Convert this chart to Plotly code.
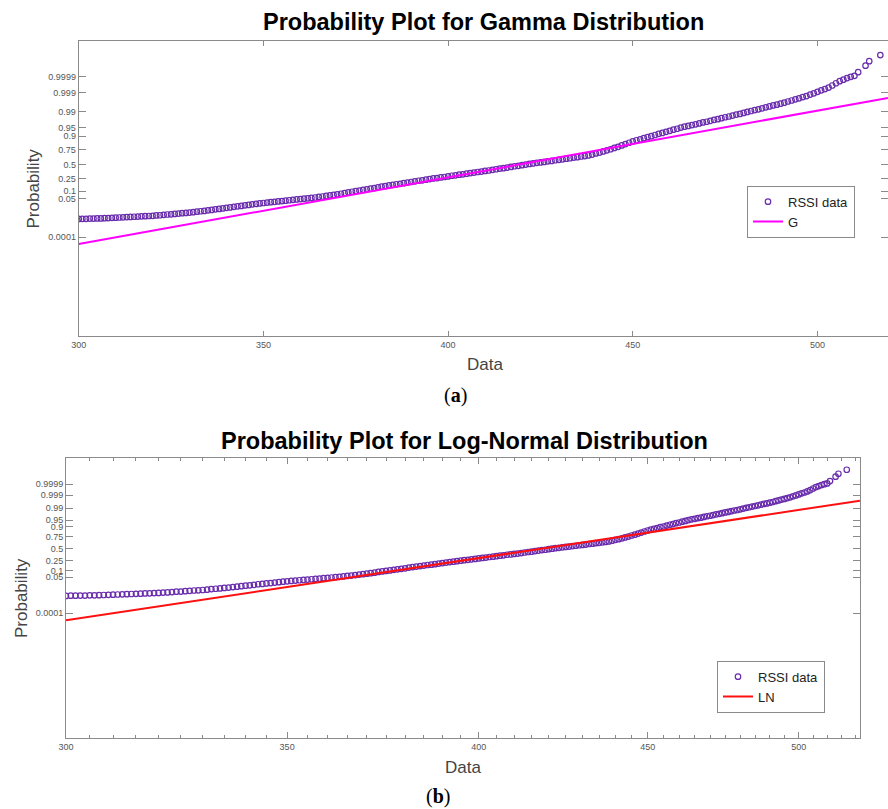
import math
from statistics import NormalDist
import plotly.graph_objects as go

# ---------------- data ----------------
# distinct RSSI readings (sorted) shown in the probability plots
rssi_values = list(range(300, 511)) + [511, 513, 514, 517]
# empirical plotting positions, expressed as standard-normal scores of the probability
normal_scores = [
    -2.72, -2.71, -2.71, -2.70, -2.70, -2.69, -2.69, -2.68, -2.67, -2.66,
    -2.65, -2.64, -2.63, -2.62, -2.61, -2.60, -2.59, -2.58, -2.57, -2.56,
    -2.55, -2.53, -2.52, -2.50, -2.48, -2.47, -2.45, -2.43, -2.41, -2.40,
    -2.38, -2.36, -2.33, -2.31, -2.29, -2.26, -2.24, -2.21, -2.19, -2.16,
    -2.13, -2.11, -2.08, -2.05, -2.03, -2.00, -1.98, -1.95, -1.93, -1.90,
    -1.88, -1.86, -1.84, -1.82, -1.80, -1.78, -1.76, -1.74, -1.72, -1.70,
    -1.68, -1.66, -1.64, -1.62, -1.60, -1.57, -1.55, -1.52, -1.49, -1.47,
    -1.44, -1.41, -1.38, -1.34, -1.31, -1.28, -1.25, -1.22, -1.19, -1.16,
    -1.13, -1.09, -1.06, -1.03, -1.00, -0.97, -0.94, -0.92, -0.89, -0.86,
    -0.83, -0.80, -0.77, -0.75, -0.72, -0.69, -0.66, -0.64, -0.61, -0.59,
    -0.56, -0.53, -0.51, -0.48, -0.46, -0.43, -0.40, -0.38, -0.35, -0.33,
    -0.30, -0.28, -0.25, -0.22, -0.19, -0.17, -0.14, -0.11, -0.08, -0.06,
    -0.03, 0.00, 0.03, 0.05, 0.08, 0.10, 0.12, 0.15, 0.17, 0.20,
    0.22, 0.24, 0.27, 0.29, 0.32, 0.34, 0.37, 0.39, 0.42, 0.46,
    0.51, 0.55, 0.60, 0.65, 0.70, 0.76, 0.81, 0.87, 0.93, 0.99,
    1.05, 1.10, 1.14, 1.19, 1.24, 1.28, 1.33, 1.38, 1.42, 1.47,
    1.51, 1.56, 1.60, 1.65, 1.69, 1.72, 1.76, 1.79, 1.83, 1.87,
    1.90, 1.94, 1.98, 2.01, 2.05, 2.09, 2.12, 2.16, 2.20, 2.23,
    2.27, 2.31, 2.35, 2.39, 2.42, 2.46, 2.50, 2.54, 2.58, 2.61,
    2.65, 2.69, 2.74, 2.78, 2.83, 2.87, 2.92, 2.96, 3.02, 3.07,
    3.13, 3.19, 3.24, 3.30, 3.38, 3.47, 3.55, 3.61, 3.67, 3.72,
    3.76, 3.90, 4.15, 4.32, 4.55,
]
prob_ticks = [0.0001, 0.05, 0.1, 0.25, 0.5, 0.75, 0.9, 0.95, 0.99, 0.999, 0.9999]
prob_tick_labels = ["0.0001", "0.05", "0.1", "0.25", "0.5", "0.75", "0.9",
                    "0.95", "0.99", "0.999", "0.9999"]
x_ticks = [300, 350, 400, 450, 500]
x_tick_labels = ["300", "350", "400", "450", "500"]
x_minor_ticks = [v for v in range(305, 525, 5) if v % 50 != 0]

# fitted distributions
gamma_shape = 170.0
gamma_mean = 420.0
ln_mu = math.log(417.8)
ln_sigma = 0.0803

ND = NormalDist()


def gamma_quantile_from_z(z):
    # Wilson-Hilferty gamma quantile for the normal score z
    c = 1.0 / (9.0 * gamma_shape)
    return gamma_mean * (1.0 - c + z * math.sqrt(c)) ** 3


probabilities = [ND.cdf(z) for z in normal_scores]
top_y = [gamma_quantile_from_z(z) for z in normal_scores]
top_tickvals = [gamma_quantile_from_z(ND.inv_cdf(p)) for p in prob_ticks]
bot_tickvals = [ND.inv_cdf(p) for p in prob_ticks]

top_xrange = [300, 519.08]
bot_xrange_log = [math.log10(300), 2.7175]

g_line_x = top_xrange
g_line_y = list(top_xrange)  # fitted gamma: quantile == data
ln_line_x = [300, 10 ** bot_xrange_log[1]]
ln_line_y = [(math.log(v) - ln_mu) / ln_sigma for v in ln_line_x]

# ---------------- figure ----------------
W, H = 888, 809
purple = "rgb(104,44,172)"
axis_col = "#8a8a8a"
tick_font = dict(family="Liberation Sans, Arial, sans-serif", size=9, color="#555555")

fig = go.Figure()
fig.add_trace(go.Scatter(
    x=rssi_values, y=top_y, mode="markers", name="RSSI data",
    marker=dict(symbol="circle-open", size=5.5, color=purple, line=dict(width=1.2)),
    customdata=probabilities, hovertemplate="%{x}: p=%{customdata:.5f}<extra></extra>",
    xaxis="x", yaxis="y", legend="legend"))
fig.add_trace(go.Scatter(
    x=g_line_x, y=g_line_y, mode="lines", name="G",
    line=dict(color="#ff00ff", width=2), xaxis="x", yaxis="y", legend="legend"))
fig.add_trace(go.Scatter(
    x=rssi_values, y=normal_scores, mode="markers", name="RSSI data",
    marker=dict(symbol="circle-open", size=5.5, color=purple, line=dict(width=1.2)),
    customdata=probabilities, hovertemplate="%{x}: p=%{customdata:.5f}<extra></extra>",
    xaxis="x2", yaxis="y2", legend="legend2"))
fig.add_trace(go.Scatter(
    x=ln_line_x, y=ln_line_y, mode="lines", name="LN",
    line=dict(color="#ff1010", width=2), xaxis="x2", yaxis="y2", legend="legend2"))

common_axis = dict(showline=True, linecolor=axis_col, linewidth=1, mirror="ticks",
                   ticks="inside", tickcolor=axis_col, tickwidth=1, showgrid=False,
                   zeroline=False, tickfont=tick_font, automargin=False)

legend_common = dict(xanchor="left", yanchor="top", bgcolor="white", bordercolor="#8a8a8a",
                     borderwidth=1, itemwidth=30, tracegroupgap=0,
                     font=dict(family="Liberation Sans, Arial, sans-serif", size=13, color="#222"))


def px_x(p):
    return p / W


def px_y(p):
    return (H - p) / H


fig.update_layout(
    width=W, height=H, autosize=False,
    margin=dict(l=0, r=0, t=0, b=0, pad=0, autoexpand=False),
    paper_bgcolor="white", plot_bgcolor="white",
    xaxis=dict(domain=[px_x(78.7), 1.0], range=top_xrange, anchor="y",
               tickvals=x_ticks, ticktext=x_tick_labels, ticklen=5, **common_axis),
    yaxis=dict(domain=[px_y(335.7), px_y(41)], range=[162.7, 604.3], anchor="x",
               tickvals=top_tickvals, ticktext=prob_tick_labels, ticklen=7, **common_axis),
    xaxis2=dict(domain=[px_x(66), px_x(860)], type="log", range=bot_xrange_log, anchor="y2",
                tickvals=x_ticks, ticktext=x_tick_labels, ticklen=6,
                minor=dict(tickvals=x_minor_ticks, ticks="inside", ticklen=3,
                           tickcolor=axis_col, tickwidth=1),
                **common_axis),
    yaxis2=dict(domain=[px_y(738.3), px_y(458.3)], range=[-10.928, 5.21], anchor="x2",
                tickvals=bot_tickvals, ticktext=prob_tick_labels, ticklen=7, **common_axis),
    legend=dict(x=px_x(747), y=px_y(185.7), **legend_common),
    legend2=dict(x=px_x(717), y=px_y(660.7), **legend_common),
    showlegend=True,
)

sans = "Liberation Sans, Arial, sans-serif"
serif = "Liberation Serif, DejaVu Serif, serif"
annots = [
    dict(text="<b>Probability Plot for Gamma Distribution</b>", x=px_x(483), y=px_y(22),
         font=dict(family=sans, size=23.5, color="black")),
    dict(text="<b>Probability Plot for Log-Normal Distribution</b>", x=px_x(464.5), y=px_y(441),
         font=dict(family=sans, size=23.5, color="black")),
    dict(text="Probability", x=px_x(33), y=px_y(188.5), textangle=-90,
         font=dict(family=sans, size=17, color="#444")),
    dict(text="Probability", x=px_x(21.7), y=px_y(598.3), textangle=-90,
         font=dict(family=sans, size=17, color="#444")),
    dict(text="Data", x=px_x(485), y=px_y(364), font=dict(family=sans, size=17, color="#444")),
    dict(text="Data", x=px_x(463), y=px_y(767.3), font=dict(family=sans, size=17, color="#444")),
    dict(text="(<b>a</b>)", x=px_x(455), y=px_y(395), font=dict(family=serif, size=20, color="black")),
    dict(text="(<b>b</b>)", x=px_x(438), y=px_y(796.7), font=dict(family=serif, size=20, color="black")),
]
for a in annots:
    fig.add_annotation(xref="paper", yref="paper", showarrow=False,
                       xanchor="center", yanchor="middle", **a)

fig.write_html(
    "out.html",
    config={"displayModeBar": False},
    post_script="document.body.style.margin='0';document.body.style.padding='0';"
                "document.body.style.overflow='hidden';",
)
